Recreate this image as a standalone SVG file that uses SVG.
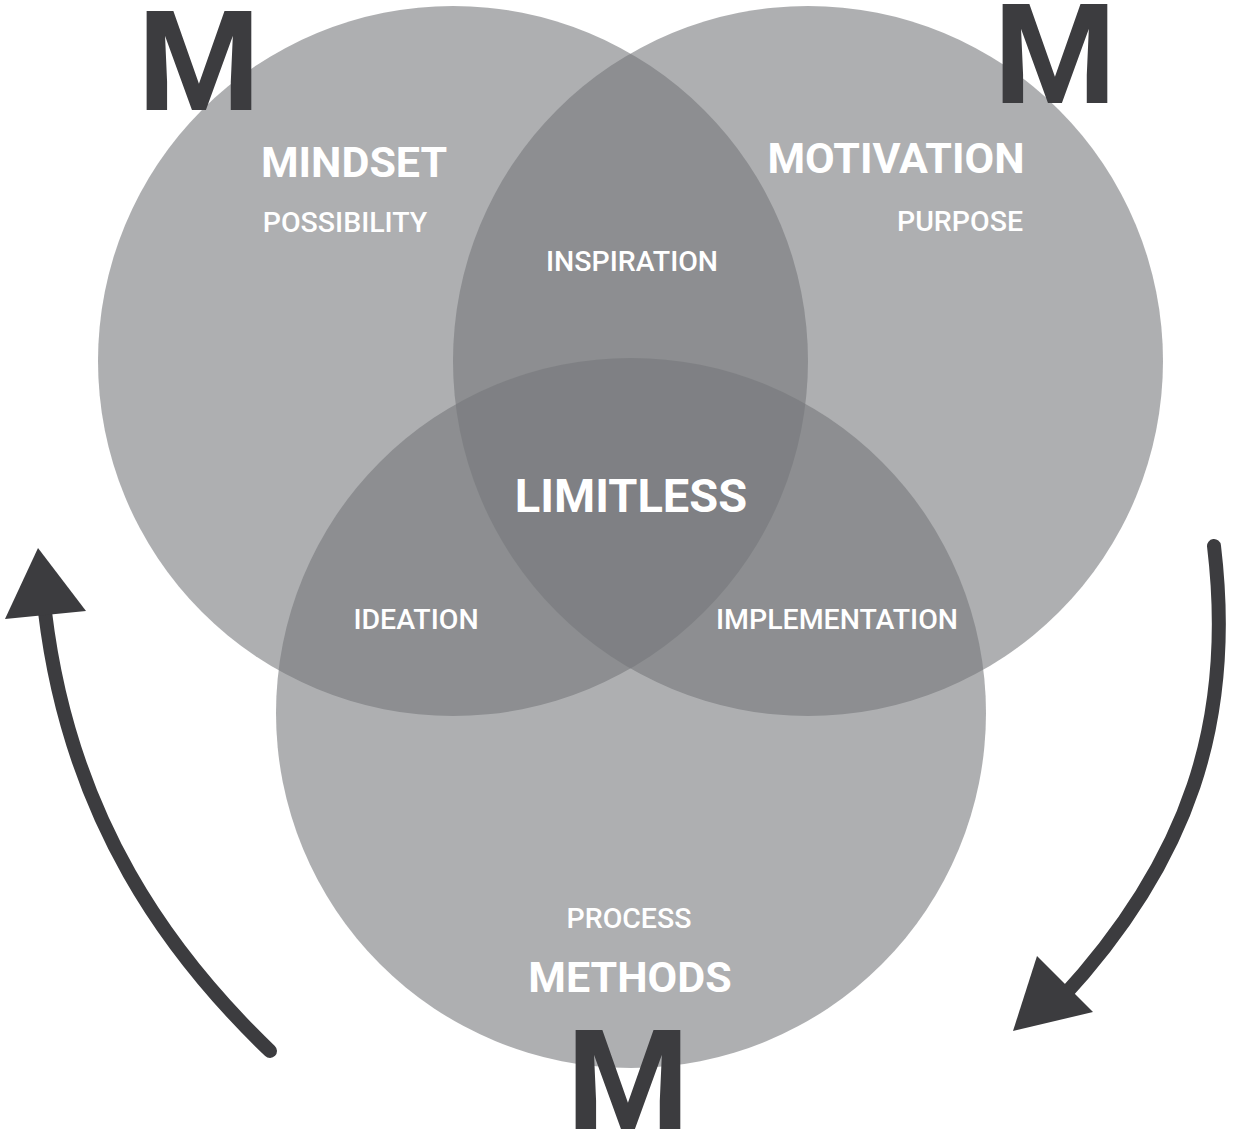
<svg xmlns="http://www.w3.org/2000/svg" width="1233" height="1131" viewBox="0 0 1233 1131">
<defs>
<style>
.c{fill:#76777b;fill-opacity:0.59}
.t{fill:#ffffff;font-family:Roboto,"Liberation Sans",sans-serif;text-anchor:middle}
.b{font-weight:700}
.m{font-weight:500}
.big{fill:#3c3c3f;font-family:Roboto,"Liberation Sans",sans-serif;font-weight:700;font-size:140px;text-anchor:middle}
.arr{fill:none;stroke:#3c3c3f;stroke-width:14;stroke-linecap:round}
.head{fill:#3c3c3f}
</style>
</defs>
<rect width="1233" height="1131" fill="#ffffff"/>
<g id="circle-mindset"><circle class="c" cx="453" cy="361" r="355"/></g>
<g id="circle-motivation"><circle class="c" cx="808" cy="361" r="355"/></g>
<g id="circle-methods"><circle class="c" cx="631" cy="713" r="355"/></g>
<g id="node-mindset">
<text class="big" x="199" y="110">M</text>
<text class="t b" x="354" y="177" font-size="43">MINDSET</text>
<text class="t m" x="345" y="232" font-size="28.5">POSSIBILITY</text>
</g>
<g id="node-motivation">
<text class="big" x="1055" y="103">M</text>
<text class="t b" x="896" y="173" font-size="43">MOTIVATION</text>
<text class="t m" x="1023" y="231" font-size="28.5" style="text-anchor:end">PURPOSE</text>
</g>
<g id="node-methods">
<text class="t m" x="629" y="928" font-size="28.5">PROCESS</text>
<text class="t b" x="630" y="992" font-size="43">METHODS</text>
<text class="big" x="628" y="1129">M</text>
</g>
<g id="node-inspiration"><text class="t m" x="632" y="271" font-size="28.5">INSPIRATION</text></g>
<g id="node-limitless"><text class="t b" x="631" y="512" font-size="47">LIMITLESS</text></g>
<g id="node-ideation"><text class="t m" x="416" y="629" font-size="28.5">IDEATION</text></g>
<g id="node-implementation"><text class="t m" x="837" y="629" font-size="28.5">IMPLEMENTATION</text></g>
<g id="connectors">
<path class="arr" d="M270,1051 C170,955 70,820 45,612"/>
<polygon class="head" points="38,548 5,619 86,611"/>
<path class="arr" d="M1214,546 C1235,720 1190,860 1060,1000"/>
<polygon class="head" points="1013,1031 1037,956 1093,1012"/>
</g>
</svg>
